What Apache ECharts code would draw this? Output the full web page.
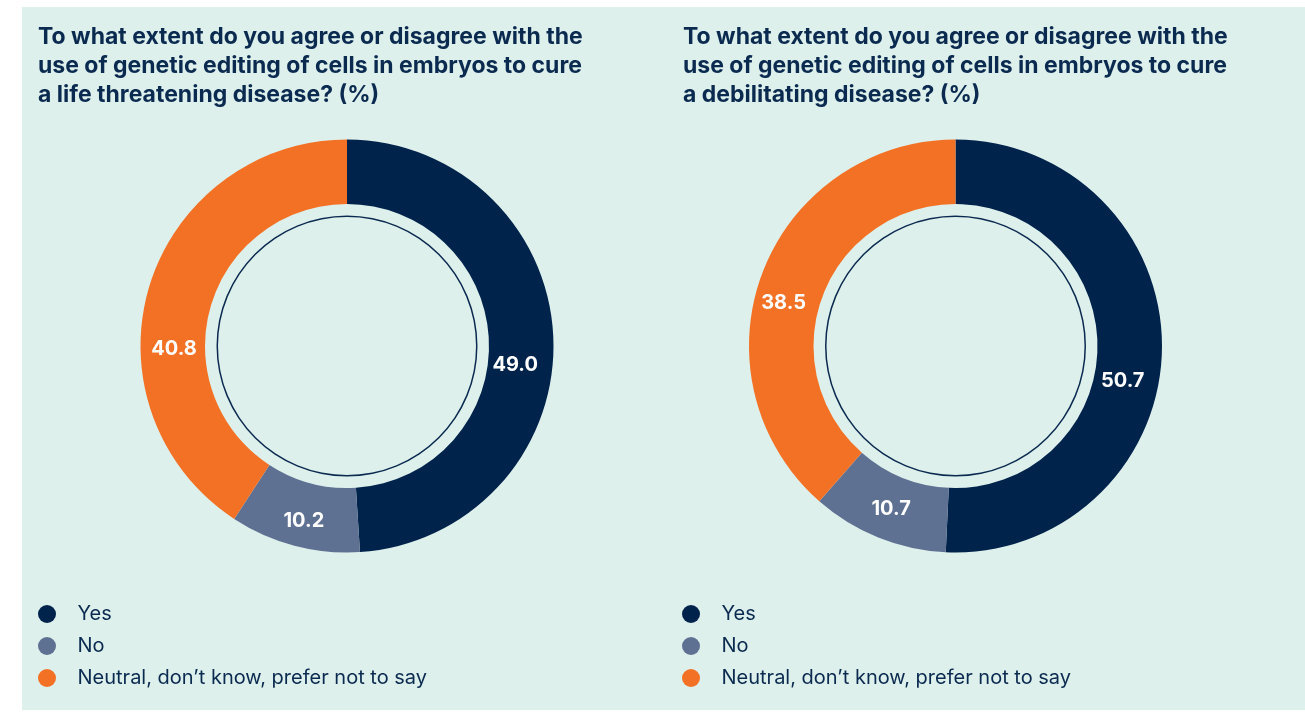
<!DOCTYPE html>
<html>
<head>
<meta charset="utf-8">
<script src="https://cdn.jsdelivr.net/npm/echarts@6/dist/echarts.min.js"></script>
<style>
  html, body { margin: 0; padding: 0; background: #ffffff; }
  #panel { position: absolute; left: 22px; top: 7px; width: 1283px; height: 703px; background: #ddf0ec; }
  #chart { position: absolute; left: 0; top: 0; width: 1305px; height: 719px; }
</style>
</head>
<body>
<div id="panel"></div>
<div id="chart"></div>
<script>
// Survey answers, in percent
const categories = ['Yes', 'No', 'Neutral, don’t know, prefer not to say'];
const lifeThreatening = [49.0, 10.2, 40.8];
const debilitating = [50.7, 10.7, 38.5];

const titleLeft = 'To what extent do you agree or disagree with the\nuse of genetic editing of cells in embryos to cure\na life threatening disease? (%)';
const titleRight = 'To what extent do you agree or disagree with the\nuse of genetic editing of cells in embryos to cure\na debilitating disease? (%)';

const colors = ['#00234b', '#5f7192', '#f37124'];
const navy = '#0b2a50';
const FONT = 'Inter, "DejaVu Sans", sans-serif';

// Small per-slice shifts of the value labels away from the arc midpoint
const labelShiftLeft = [[-9, 25], [2, 4], [-3, 54]];
const labelShiftRight = [[-10, 31], [2, -1], [-6, 19]];

function donut(values, center, shifts) {
  return {
    type: 'pie',
    center: center,
    radius: [142, 206.5],
    startAngle: 90,
    clockwise: true,
    avoidLabelOverlap: false,
    silent: true,
    data: categories.map((name, i) => ({
      name: name,
      value: values[i],
      itemStyle: { color: colors[i] }
    })),
    label: {
      show: true,
      position: 'inside',
      formatter: p => p.value.toFixed(1),
      color: '#ffffff',
      fontFamily: FONT,
      fontWeight: 'bold',
      fontSize: 20
    },
    labelLine: { show: false },
    labelLayout: p => ({ dx: shifts[p.dataIndex][0], dy: shifts[p.dataIndex][1] })
  };
}

function ring(center) {
  return {
    type: 'pie',
    center: center,
    radius: [129, 130.5],
    silent: true,
    label: { show: false },
    labelLine: { show: false },
    data: [{ name: '_ring', value: 1, itemStyle: { color: '#0b2a50' } }]
  };
}

function legend(left) {
  return {
    orient: 'vertical',
    left: left,
    top: 604,
    padding: 0,
    icon: 'circle',
    itemWidth: 51,
    itemHeight: 18,
    itemGap: 12,
    selectedMode: false,
    data: categories,
    textStyle: { color: navy, fontFamily: FONT, fontSize: 20 }
  };
}

const chart = echarts.init(document.getElementById('chart'), null, { renderer: 'canvas' });
chart.setOption({
  backgroundColor: 'transparent',
  animation: false,
  title: [
    { text: titleLeft, left: 38, top: 22.5, padding: 0,
      textStyle: { color: navy, fontFamily: FONT, fontWeight: 'bold', fontSize: 23, lineHeight: 29 } },
    { text: titleRight, left: 683, top: 22.5, padding: 0,
      textStyle: { color: navy, fontFamily: FONT, fontWeight: 'bold', fontSize: 23, lineHeight: 29 } }
  ],
  legend: [legend(38), legend(682)],
  series: [
    donut(lifeThreatening, [347, 346], labelShiftLeft),
    ring([347, 346]),
    donut(debilitating, [955.5, 346], labelShiftRight),
    ring([955.5, 346])
  ]
});
</script>
</body>
</html>
